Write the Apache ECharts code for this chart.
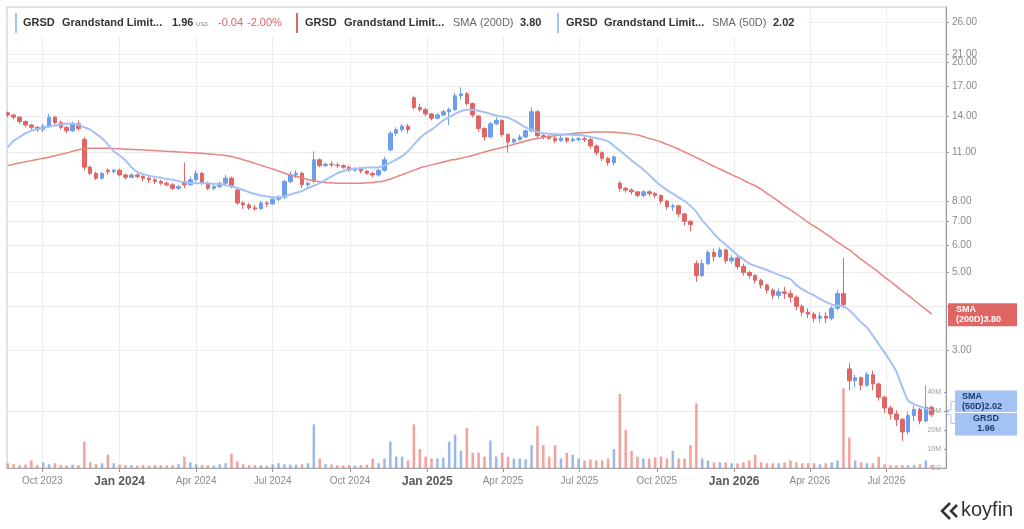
<!DOCTYPE html>
<html>
<head>
<meta charset="utf-8">
<title>GRSD Grandstand Limited</title>
<script src="https://cdn.jsdelivr.net/npm/echarts@6/dist/echarts.min.js"></script>
<style>
  html, body { margin: 0; padding: 0; background: #fff; }
  #main { width: 1024px; height: 529px; }
</style>
</head>
<body>
<div id="main"></div>
<script>
// weekly bars, first week starts here
var firstWeek = [2023, 7, 21];

// [open, close, low, high] per week
var ohlc = [
  [14.3,14.1,13.9,14.4],[14.1,13.9,13.7,14.2],[13.9,13.5,13.3,14.0],[13.5,13.2,13.0,13.6],[13.2,13.0,12.8,13.3],
  [13.0,12.8,12.6,13.1],[12.8,13.1,12.6,13.3],[13.1,13.9,13.0,14.2],[13.9,13.4,13.2,14.0],[13.4,13.0,12.8,13.6],
  [13.0,12.7,12.5,13.1],[12.7,13.3,12.6,13.5],[13.3,12.9,12.7,13.6],[12.0,10.0,9.8,12.2],[10.0,9.6,9.5,10.1],
  [9.6,9.3,9.2,9.7],[9.3,9.6,9.2,9.7],[9.8,9.7,9.5,9.9],[9.7,9.8,9.6,9.9],[9.8,9.5,9.4,9.9],
  [9.5,9.35,9.2,9.6],[9.35,9.5,9.3,9.6],[9.5,9.4,9.3,9.6],[9.4,9.3,9.1,9.5],[9.3,9.2,9.0,9.4],
  [9.2,9.1,8.95,9.3],[9.1,9.0,8.9,9.2],[9.0,8.9,8.8,9.1],[8.9,8.7,8.6,9.0],[8.7,8.8,8.6,8.9],
  [9.1,8.9,8.7,10.3],[8.9,9.2,8.85,9.4],[9.2,9.6,9.1,9.8],[9.6,9.0,8.9,9.7],[9.0,8.7,8.6,9.1],
  [8.7,8.8,8.6,8.9],[8.8,9.0,8.7,9.1],[9.0,9.3,8.9,9.5],[9.3,8.8,8.7,9.4],[8.6,7.9,7.8,8.7],
  [7.9,7.8,7.6,8.0],[7.8,7.65,7.55,7.9],[7.65,7.6,7.5,7.8],[7.6,7.9,7.55,8.0],[7.9,7.85,7.7,8.0],
  [7.85,8.1,7.8,8.2],[8.1,8.2,8.0,8.3],[8.2,9.1,8.1,9.2],[9.1,9.5,9.0,9.7],[9.5,9.6,9.3,9.8],
  [9.6,8.9,8.7,9.7],[8.9,9.0,8.7,9.1],[9.1,10.5,9.0,11.1],[10.5,10.1,10.0,10.6],[10.1,10.2,10.0,10.3],
  [10.2,10.15,10.0,10.4],[10.15,10.1,9.95,10.3],[10.1,10.0,9.9,10.2],[10.0,9.8,9.7,10.1],[9.8,9.85,9.7,10.0],
  [9.85,9.75,9.6,9.95],[9.75,9.6,9.5,9.8],[9.6,9.5,9.35,9.7],[9.5,9.8,9.4,9.9],[9.8,10.5,9.7,10.7],
  [11.2,12.5,11.1,12.7],[12.5,12.8,12.3,13.0],[12.8,13.1,12.6,13.3],[13.1,12.8,12.5,13.3],[15.8,14.8,14.6,16.0],
  [14.8,14.6,14.4,15.2],[14.6,14.2,14.0,14.8],[14.2,13.8,13.6,14.3],[13.8,14.1,13.7,14.3],[14.1,14.4,14.0,14.6],
  [14.4,14.6,13.2,14.8],[14.6,16.0,14.5,16.3],[16.0,16.2,15.6,16.9],[16.2,15.2,15.0,16.4],[15.2,14.1,13.9,15.3],
  [14.0,12.9,12.6,14.1],[12.9,12.2,11.9,13.0],[12.2,13.3,12.1,13.5],[13.3,13.6,13.2,13.9],[13.6,12.4,12.2,13.7],
  [12.4,11.8,11.0,12.5],[11.8,12.0,11.6,12.1],[12.0,12.2,11.9,12.4],[12.2,12.7,12.1,12.8],[12.7,14.4,12.6,14.8],
  [14.4,12.3,12.1,14.6],[12.3,12.2,12.0,12.5],[12.2,12.1,11.95,12.4],[12.1,11.9,11.7,12.3],[11.9,12.1,11.8,12.3],
  [12.1,11.9,11.7,12.2],[11.9,12.0,11.8,12.2],[12.0,12.05,11.8,12.2],[12.05,12.0,11.8,12.2],[12.0,11.5,11.3,12.1],
  [11.5,11.0,10.8,11.6],[11.0,10.6,10.4,11.1],[10.6,10.3,10.1,10.7],[10.3,10.7,10.1,10.8],[9.0,8.7,8.5,9.1],
  [8.7,8.6,8.45,8.8],[8.6,8.5,8.35,8.7],[8.5,8.3,8.2,8.5],[8.3,8.5,8.2,8.6],[8.5,8.4,8.25,8.6],
  [8.4,8.3,8.15,8.5],[8.3,8.0,7.85,8.35],[8.0,7.7,7.55,8.05],[7.7,7.75,7.5,7.85],[7.75,7.35,7.2,7.8],
  [7.35,7.0,6.8,7.4],[7.0,6.85,6.55,7.05],[5.3,4.9,4.7,5.4],[4.9,5.3,4.85,5.45],[5.3,5.7,5.25,5.8],
  [5.7,5.55,5.4,5.85],[5.55,5.8,5.5,5.9],[5.8,5.4,5.3,5.85],[5.4,5.5,5.3,5.6],[5.5,5.2,5.1,5.6],
  [5.2,5.0,4.9,5.3],[5.0,4.9,4.8,5.05],[4.9,4.75,4.65,4.95],[4.75,4.6,4.5,4.8],[4.6,4.45,4.35,4.65],
  [4.45,4.3,4.2,4.5],[4.3,4.4,4.2,4.5],[4.4,4.35,4.2,4.55],[4.35,4.25,4.1,4.45],[4.25,4.0,3.9,4.3],
  [4.0,3.85,3.75,4.05],[3.85,3.8,3.7,3.95],[3.8,3.7,3.6,3.85],[3.7,3.75,3.6,3.85],[3.75,3.7,3.58,3.85],
  [3.7,3.95,3.65,4.0],[3.95,4.35,3.9,4.45],[4.35,4.05,3.95,5.5],[2.65,2.45,2.3,2.75],[2.45,2.5,2.35,2.55],
  [2.5,2.38,2.3,2.52],[2.38,2.55,2.35,2.6],[2.55,2.4,2.3,2.62],[2.4,2.2,2.15,2.42],[2.2,2.05,1.98,2.22],
  [2.05,1.97,1.9,2.08],[1.97,1.9,1.82,2.02],[1.9,1.75,1.65,1.92],[1.75,1.95,1.72,2.0],[1.95,2.03,1.88,2.08],
  [2.03,1.88,1.84,2.05],[1.88,2.06,1.86,2.38],[2.06,1.96,1.93,2.08]
];

// volume, millions
var volume = [
  2.5, 2, 1.5, 1.8, 4, 1.5, 3, 2, 2.5, 1.5,
  1.3, 1.8, 1.5, 14, 3, 2, 2.5, 7, 2.5, 1.8,
  1.5, 1.5, 1.3, 1.5, 1.2, 1.5, 1.5, 1.3, 1.5, 2,
  6, 3, 2, 1.5, 1.5, 1.3, 2, 2.5, 7.5, 3.5,
  2, 1.5, 1.5, 1.5, 1.3, 2, 2.5, 2, 1.8, 1.8,
  2, 2.5, 23, 5, 2, 1.8, 1.5, 1.3, 1.5, 1.3,
  1.5, 1.8, 5, 2.5, 5, 14, 6, 6, 4, 23,
  10, 6, 5, 5, 5.5, 14, 17.6, 9, 21, 8,
  8, 6, 14.5, 6, 8, 6, 5, 5, 4.5, 12,
  22, 12, 6, 12, 5, 8, 7, 5, 4, 4.5,
  4, 4, 5, 10, 39, 20, 9, 6, 5, 5,
  5.5, 6, 5, 9, 5, 5, 12, 34, 5, 4,
  3, 3, 3, 2.5, 2.5, 3, 4, 7, 3, 2.5,
  2.5, 2.5, 3, 4, 3, 2.5, 2.5, 2.5, 2, 2.5,
  3, 4, 42, 16, 4, 3, 2.5, 2.5, 6, 2,
  1.5, 1.5, 1.5, 1.5, 1.5, 2, 4, 1.5
];

var sma50 = [
  11.4, 11.9, 12.2, 12.5, 12.7, 12.85, 12.95, 13.05, 13.15, 13.25,
  13.3, 13.3, 13.2, 13.0, 12.8, 12.45, 12.1, 11.6, 11.1, 10.8,
  10.45, 10.0, 9.7, 9.55, 9.45, 9.38, 9.32, 9.25, 9.2, 9.12,
  9.05, 9.02, 9.0, 9.0, 8.98, 8.96, 8.93, 8.88, 8.82, 8.72,
  8.6, 8.48, 8.38, 8.3, 8.25, 8.2, 8.2, 8.25, 8.35, 8.45,
  8.55, 8.7, 8.85, 9.0, 9.2, 9.4, 9.6, 9.75, 9.85, 9.9,
  9.95, 9.97, 9.98, 10.0, 10.1, 10.3, 10.5, 10.75, 11.1, 11.6,
  12.1, 12.5, 12.8, 13.2, 13.6, 13.9, 14.2, 14.45, 14.6, 14.6,
  14.5, 14.35, 14.2, 14.05, 13.95, 13.85, 13.6, 13.3, 13.0, 12.8,
  12.6, 12.5, 12.45, 12.42, 12.4, 12.4, 12.38, 12.35, 12.3, 12.2,
  12.1, 12.0, 11.85, 11.5, 11.15, 10.8, 10.45, 10.15, 9.85, 9.5,
  9.15, 8.85, 8.6, 8.4, 8.2, 8.0, 7.75, 7.45, 7.05, 6.75,
  6.45, 6.2, 6.0, 5.8, 5.6, 5.45, 5.3, 5.22, 5.15, 5.08,
  5.0, 4.92, 4.85, 4.78, 4.6, 4.48, 4.38, 4.3, 4.2, 4.12,
  4.05, 4.02, 4.0, 3.9, 3.75, 3.6, 3.48, 3.3, 3.12, 2.95,
  2.78, 2.6, 2.35, 2.15, 2.1, 2.07, 2.04, 2.02
];

var sma200 = [
  10.1, 10.2, 10.28, 10.36, 10.44, 10.52, 10.6, 10.68, 10.78, 10.88,
  10.98, 11.1, 11.22, 11.3, 11.32, 11.33, 11.33, 11.32, 11.3, 11.28,
  11.26, 11.24, 11.22, 11.2, 11.18, 11.15, 11.12, 11.1, 11.08, 11.05,
  11.03, 11.0, 10.98, 10.95, 10.92, 10.88, 10.84, 10.8, 10.72, 10.62,
  10.5, 10.38, 10.25, 10.12, 10.0, 9.88, 9.75, 9.62, 9.5, 9.4,
  9.32, 9.22, 9.14, 9.08, 9.04, 9.02, 9.0, 9.0, 9.0, 9.0,
  9.0, 9.02, 9.04, 9.08, 9.15, 9.25, 9.38, 9.52, 9.66, 9.8,
  9.95, 10.05, 10.15, 10.25, 10.35, 10.45, 10.52, 10.6, 10.7, 10.8,
  10.92, 11.05, 11.18, 11.28, 11.38, 11.5, 11.62, 11.75, 11.88, 12.0,
  12.08, 12.16, 12.24, 12.3, 12.36, 12.42, 12.48, 12.52, 12.55, 12.58,
  12.6, 12.6, 12.6, 12.58, 12.55, 12.5, 12.45, 12.35, 12.22, 12.08,
  11.95, 11.8, 11.62, 11.45, 11.25, 11.05, 10.85, 10.65, 10.45, 10.25,
  10.05, 9.88, 9.7, 9.52, 9.35, 9.18, 9.0, 8.85, 8.65, 8.42,
  8.2, 7.98, 7.75, 7.55, 7.35, 7.15, 6.95, 6.78, 6.62, 6.45,
  6.28, 6.1, 5.95, 5.8, 5.62, 5.45, 5.3, 5.15, 5.0, 4.85,
  4.71, 4.57, 4.43, 4.3, 4.17, 4.04, 3.92, 3.80
];

var priceTicks = [26, 21, 20, 17, 14, 11, 8, 7, 6, 5, 4, 3, 2];
// 4.00 and 2.00 sit under the side tags, so no label is drawn for them
var priceLabels = [26, 21, 20, 17, 14, 11, 8, 7, 6, 5, 3];
var volumeTicks = [0, 10, 20, 30, 40];
var dateTicks = ['2023-10-01', '2024-01-01', '2024-04-01', '2024-07-01', '2024-10-01', '2025-01-01',
                 '2025-04-01', '2025-07-01', '2025-10-01', '2026-01-01', '2026-04-01', '2026-07-01'];
var monthNames = ['Jan', 'Feb', 'Mar', 'Apr', 'May', 'Jun', 'Jul', 'Aug', 'Sep', 'Oct', 'Nov', 'Dec'];

var UP = '#6d9eeb', DOWN = '#e06666';
var FONT = 'Liberation Sans, Arial, sans-serif';

function toTime(s) {
  var p = s.split('-');
  return new Date(+p[0], +p[1] - 1, +p[2]).getTime();
}

var t0 = new Date(firstWeek[0], firstWeek[1], firstWeek[2]).getTime();
var candleData = [], volData = [], sma50Data = [], sma200Data = [];
for (var i = 0; i < ohlc.length; i++) {
  var t = t0 + i * 7 * 86400000;
  var k = ohlc[i];
  candleData.push([t, k[0], k[1], k[2], k[3]]);
  volData.push({
    value: [t, volume[i] * 1e6],
    itemStyle: { color: k[1] >= k[0] ? 'rgba(120,162,222,0.75)' : 'rgba(238,130,124,0.75)' }
  });
  sma50Data.push([t, sma50[i]]);
  sma200Data.push([t, sma200[i]]);
}
var dateTickTimes = dateTicks.map(toTime);
var volTickValues = volumeTicks.map(function (v) { return v * 1e6; });

var chart = echarts.init(document.getElementById('main'));

// x axis is a plain value axis over timestamps so the quarter ticks can be placed exactly
var option = {
  animation: false,
  textStyle: { fontFamily: FONT },
  grid: { left: 7, right: 78, top: 7, bottom: 61, show: true, borderColor: '#c4c4c4', borderWidth: 1 },
  xAxis: {
    type: 'value',
    min: new Date(2023, 7, 20).getTime(),
    max: new Date(2026, 8, 10).getTime(),
    axisLine: { show: true, onZero: false, lineStyle: { color: '#aaa' } },
    axisTick: { show: true, length: 4, lineStyle: { color: '#999' }, customValues: dateTickTimes },
    axisLabel: {
      customValues: dateTickTimes,
      color: '#8a8a8a',
      fontSize: 10,
      margin: 8,
      formatter: function (v) {
        var d = new Date(v);
        var m = d.getMonth();
        if (m === 0) return '{yr|Jan ' + d.getFullYear() + '}';
        return monthNames[m] + ' ' + d.getFullYear();
      },
      rich: { yr: { fontSize: 12, fontWeight: 'bold', color: '#5a5a5a', fontFamily: FONT } }
    },
    splitLine: { show: true, lineStyle: { color: '#ececec' } }
  },
  yAxis: [{
    type: 'log',
    position: 'right',
    min: 1.38,
    max: 28.7,
    axisLine: { show: true, lineStyle: { color: '#999' } },
    axisTick: { show: true, length: 3, lineStyle: { color: '#999' }, customValues: priceTicks },
    axisLabel: {
      customValues: priceLabels,
      color: '#8a8a8a',
      fontSize: 10,
      margin: 6,
      formatter: function (v) { return (+v).toFixed(2); }
    },
    splitLine: { show: true, lineStyle: { color: '#ececec' } }
  }, {
    type: 'value',
    position: 'right',
    min: 0,
    max: 243e6,
    axisLine: { show: false },
    axisTick: { show: true, inside: true, length: 2, lineStyle: { color: '#999' }, customValues: volTickValues },
    axisLabel: {
      inside: true,
      customValues: volTickValues,
      color: '#9a9a9a',
      fontSize: 7,
      margin: 5,
      formatter: function (v) { return v === 0 ? '0.0' : Math.round(v / 1e6) + 'M'; }
    },
    splitLine: { show: false }
  }],
  series: [{
    name: 'Volume',
    type: 'bar',
    yAxisIndex: 1,
    barWidth: 2.5,
    data: volData,
    z: 1
  }, {
    name: 'GRSD',
    type: 'candlestick',
    yAxisIndex: 0,
    barWidth: 4,
    data: candleData,
    itemStyle: { color: UP, color0: DOWN, borderColor: UP, borderColor0: DOWN, borderWidth: 1 },
    z: 3
  }, {
    name: 'SMA (200D)',
    type: 'line',
    yAxisIndex: 0,
    data: sma200Data,
    showSymbol: false,
    smooth: 0.3,
    lineStyle: { color: '#e8857f', width: 1.5 },
    z: 4
  }, {
    name: 'SMA (50D)',
    type: 'line',
    yAxisIndex: 0,
    data: sma50Data,
    showSymbol: false,
    smooth: 0.3,
    lineStyle: { color: '#a4c2f4', width: 2 },
    z: 5
  }]
};

chart.setOption(option);

// legend strip and side labels
function txt(x, y, text, font, fill, align) {
  return { type: 'text', z: 100, silent: true,
    style: { x: x, y: y, text: text, font: font, fill: fill, align: align || 'left', verticalAlign: 'middle' } };
}
function box(x, y, w, h, fill) {
  return { type: 'rect', z: 99, silent: true, shape: { x: x, y: y, width: w, height: h }, style: { fill: fill } };
}

var B = 'bold 11px ' + FONT, N = '11px ' + FONT;
var lastClose = ohlc[ohlc.length - 1][1];
var last50 = sma50[sma50.length - 1];
var last200 = sma200[sma200.length - 1];

var g = [
  box(10, 9, 796, 28, '#ffffff'),
  box(15, 13, 2, 20, '#a4c2f4'),
  txt(23, 23, 'GRSD', B, '#333'),
  txt(62, 23, 'Grandstand Limit...', B, '#333'),
  txt(172, 23, lastClose.toFixed(2), B, '#333'),
  txt(196, 24, 'USD', '6px ' + FONT, '#888'),
  txt(218, 23, '-0.04', N, DOWN),
  txt(247, 23, '-2.00%', N, DOWN),
  box(296, 13, 2, 20, DOWN),
  txt(305, 23, 'GRSD', B, '#333'),
  txt(344, 23, 'Grandstand Limit...', B, '#333'),
  txt(453, 23, 'SMA (200D)', N, '#666'),
  txt(520, 23, last200.toFixed(2), B, '#333'),
  box(557, 13, 2, 20, '#a4c2f4'),
  txt(566, 23, 'GRSD', B, '#333'),
  txt(604, 23, 'Grandstand Limit...', B, '#333'),
  txt(712, 23, 'SMA (50D)', N, '#666'),
  txt(773, 23, last50.toFixed(2), B, '#333')
];

var y200 = chart.convertToPixel({ yAxisIndex: 0 }, last200);
var y50 = chart.convertToPixel({ yAxisIndex: 0 }, last50);
var yP = chart.convertToPixel({ yAxisIndex: 0 }, lastClose);
var mid = (y50 + yP) / 2;
var S = 'bold 9px ' + FONT;

g.push(
  box(948, y200 - 11, 69, 23, DOWN),
  txt(956, y200 - 5, 'SMA', S, '#fff'),
  txt(956, y200 + 5, '(200D)' + last200.toFixed(2), S, '#fff'),
  box(955, mid - 22, 62, 21.5, '#a4c2f4'),
  box(955, mid + 0.5, 62, 22.5, '#a4c2f4'),
  txt(962, mid - 16, 'SMA', S, '#1d3a6e'),
  txt(962, mid - 6, '(50D)' + last50.toFixed(2), S, '#1d3a6e'),
  txt(986, mid + 6, 'GRSD', S, '#1d3a6e', 'center'),
  txt(986, mid + 16, lastClose.toFixed(2), S, '#1d3a6e', 'center'),
  { type: 'polyline', z: 98, silent: true,
    shape: { points: [[947, y50], [951, y50], [951, mid - 11], [955, mid - 11]] },
    style: { stroke: '#a4c2f4', lineWidth: 1, fill: null } },
  { type: 'polyline', z: 98, silent: true,
    shape: { points: [[947, yP], [951, yP], [951, mid + 11], [955, mid + 11]] },
    style: { stroke: '#a4c2f4', lineWidth: 1, fill: null } },
  // koyfin mark
  { type: 'polyline', z: 100, silent: true,
    shape: { points: [[950, 503], [942, 511], [950, 519]] },
    style: { stroke: '#333', lineWidth: 2.5, fill: null } },
  { type: 'polyline', z: 100, silent: true,
    shape: { points: [[957, 505], [951, 511], [957, 517]] },
    style: { stroke: '#333', lineWidth: 2.5, fill: null } },
  txt(961, 510, 'koyfin', '20px ' + FONT, '#333')
);

chart.setOption({ graphic: g });
</script>
</body>
</html>
